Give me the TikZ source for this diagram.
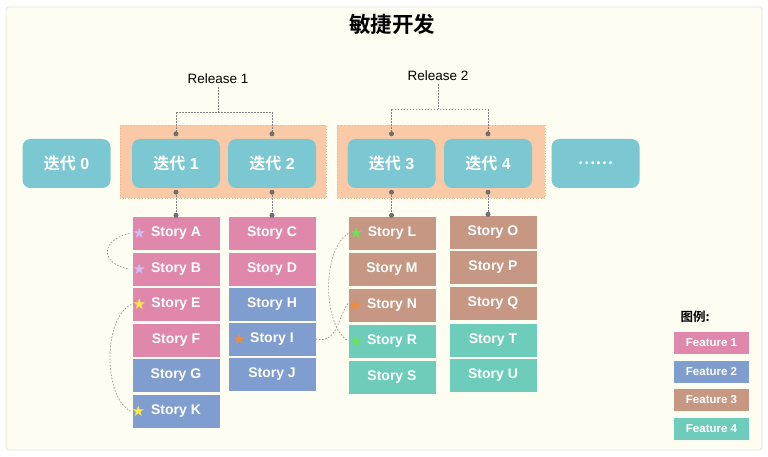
\documentclass[tikz,border=0pt]{standalone}
\usepackage{fontspec}
\setmainfont{Liberation Sans}
\newfontfamily\cjk{Noto Sans CJK SC}[BoldFont={Noto Sans CJK SC Bold}]
\newfontfamily\symf{DejaVu Sans}
\definecolor{bgC}{RGB}{253,253,241}
\definecolor{bgLine}{RGB}{228,228,222}
\definecolor{iterC}{RGB}{124,200,210}
\definecolor{grpC}{RGB}{250,202,166}
\definecolor{grpLine}{RGB}{240,180,140}
\definecolor{fOne}{RGB}{224,135,172}
\definecolor{fTwo}{RGB}{128,157,208}
\definecolor{fThree}{RGB}{198,151,131}
\definecolor{fFour}{RGB}{110,205,186}
\definecolor{lineC}{RGB}{130,130,130}
\definecolor{lavC}{RGB}{205,190,245}
\definecolor{yelC}{RGB}{250,235,70}
\definecolor{oraC}{RGB}{245,140,50}
\definecolor{grnC}{RGB}{110,225,90}
\tikzset{
  iter/.style={rounded corners=8pt, fill=iterC, minimum width=88pt, minimum height=49pt, text=white, font=\bfseries\fontsize{16}{18}\selectfont, inner sep=0pt},
  story/.style={fill=#1, minimum width=87pt, minimum height=33pt, text=white, font=\bfseries\fontsize{14}{16}\selectfont, inner sep=0pt},
  feat/.style={fill=#1, minimum width=75pt, minimum height=22pt, text=white, font=\bfseries\fontsize{11.5}{13}\selectfont, inner sep=0pt},
  starm/.style={text=#1, font=\symf\fontsize{15}{15}\selectfont, inner sep=0pt},
  dl/.style={draw=lineC, line width=0.6pt, dash pattern=on 1.6pt off 1.4pt},
  cl/.style={draw=lineC!80, line width=0.7pt, dash pattern=on 1.6pt off 1.6pt},
  pin/.style={circle, fill=lineC!85!black, minimum size=5pt, inner sep=0pt},
  rel/.style={font=\fontsize{13.5}{15}\selectfont, text=black}
}
\begin{document}
\begin{tikzpicture}[x=1pt,y=-1pt]
\useasboundingbox (0,0) rectangle (768,457);
\fill[white] (0,0) rectangle (768,457);
\filldraw[fill=bgC, draw=bgLine, line width=0.8pt, rounded corners=3pt] (6,7) rectangle (762,450);

\node[font=\cjk\bfseries\fontsize{21.5}{24}\selectfont] (title) at (392,24) {敏捷开发};

% release groups
\filldraw[fill=grpC, draw=grpLine, line width=0.8pt, dotted] (120,125) rectangle (326,198);
\filldraw[fill=grpC, draw=grpLine, line width=0.8pt, dotted] (337,125) rectangle (545,198);

% iterations
\node[iter] (i0) at (66.5,163.5) {{\cjk\bfseries 迭代} 0};
\node[iter] (i1) at (176,163.5) {{\cjk\bfseries 迭代} 1};
\node[iter] (i2) at (272,163.5) {{\cjk\bfseries 迭代} 2};
\node[iter] (i3) at (391.5,163.5) {{\cjk\bfseries 迭代} 3};
\node[iter] (i4) at (488,163.5) {{\cjk\bfseries 迭代} 4};
\node[iter] (i5) at (595.5,163.5) {{\cjk ……}};

% releases
\node[rel] (r1) at (218,79) {Release 1};
\node[rel] (r2) at (438,76) {Release 2};
\coordinate (r1j) at (218,112);
\coordinate (r2j) at (438,109);

% stories column 1
\node[story=fOne] (sA) at (176,233.5) {Story A};
\node[story=fOne] (sB) at (176,269) {Story B};
\node[story=fOne] (sE) at (176,304.5) {Story E};
\node[story=fOne] (sF) at (176,340) {Story F};
\node[story=fTwo] (sG) at (176,375.5) {Story G};
\node[story=fTwo] (sK) at (176,411) {Story K};
% column 2
\node[story=fOne] (sC) at (272,233.5) {Story C};
\node[story=fOne] (sD) at (272,269) {Story D};
\node[story=fTwo] (sH) at (272,304) {Story H};
\node[story=fTwo] (sI) at (272,339) {Story I};
\node[story=fTwo] (sJ) at (272,374.5) {Story J};
% column 3
\node[story=fThree] (sL) at (392,233.5) {Story L};
\node[story=fThree] (sM) at (392,269) {Story M};
\node[story=fThree] (sN) at (392,305) {Story N};
\node[story=fFour] (sR) at (392,341) {Story R};
\node[story=fFour] (sS) at (392,377) {Story S};
% column 4
\node[story=fThree] (sO) at (493,232.5) {Story O};
\node[story=fThree] (sP) at (493,267.5) {Story P};
\node[story=fThree] (sQ) at (493,303.5) {Story Q};
\node[story=fFour] (sT) at (493,340) {Story T};
\node[story=fFour] (sU) at (493,375.5) {Story U};

% stars
\node[starm=lavC] (stA) at ([xshift=7pt]sA.west) {★};
\node[starm=lavC] (stB) at ([xshift=7pt]sB.west) {★};
\node[starm=yelC] (stE) at ([xshift=7pt]sE.west) {★};
\node[starm=yelC] (stK) at ([xshift=6pt]sK.west) {★};
\node[starm=oraC] (stI) at ([xshift=11pt]sI.west) {★};
\node[starm=oraC] (stN) at ([xshift=7pt]sN.west) {★};
\node[starm=grnC] (stL) at ([xshift=8pt]sL.west) {★};
\node[starm=grnC] (stR) at ([xshift=8pt]sR.west) {★};

% release connectors
\draw[dl] (r1) -- (r1j);
\draw[dl] (i1.north |- r1j) -- (i2.north |- r1j);
\draw[dl] (i1.north |- r1j) -- ([yshift=5pt]i1.north);
\draw[dl] (i2.north |- r1j) -- ([yshift=5pt]i2.north);
\draw[dl] (r2) -- (r2j);
\draw[dl] (i3.north |- r2j) -- (i4.north |- r2j);
\draw[dl] (i3.north |- r2j) -- ([yshift=5pt]i3.north);
\draw[dl] (i4.north |- r2j) -- ([yshift=5pt]i4.north);
\foreach \n in {i1,i2,i3,i4} \node[pin] at ([yshift=5pt]\n.north) {};

% iteration to story connectors
\draw[dl] ([yshift=-4pt]i1.south) -- (i1.south |- sA.north);
\draw[dl] ([yshift=-4pt]i2.south) -- (i2.south |- sC.north);
\draw[dl] ([yshift=-4pt]i3.south) -- (i3.south |- sL.north);
\draw[dl] ([yshift=-4pt]i4.south) -- (i4.south |- sO.north);
\foreach \n/\s in {i1/sA,i2/sC,i3/sL,i4/sO} {
  \node[pin] at ([yshift=-4pt]\n.south) {};
  \node[pin] at ([yshift=1.5pt]\n.south |- \s.north) {};
}

% dependency curves
\draw[cl] ([xshift=-3pt]sA.west) .. controls (100,240) and (100,264) .. ([xshift=-3pt]sB.west);
\draw[cl] ([xshift=-1pt]sE.west) .. controls (103,318) and (103,396) .. ([xshift=-2pt]sK.west);
\draw[cl] (sI.east) .. controls (338,344) and (338,316) .. ([yshift=2pt]sN.west);
\draw[cl] (sL.west) .. controls (322,250) and (322,325) .. (sR.west);

% legend
\node[font=\cjk\bfseries\fontsize{12.5}{14}\selectfont, anchor=west] (leg) at (677,317) {图例:};
\node[feat=fOne] (f1) at (711.5,342.5) {Feature 1};
\node[feat=fTwo] (f2) at (711.5,371.5) {Feature 2};
\node[feat=fThree] (f3) at (711.5,399.5) {Feature 3};
\node[feat=fFour] (f4) at (711.5,428.5) {Feature 4};
\end{tikzpicture}
\end{document}
